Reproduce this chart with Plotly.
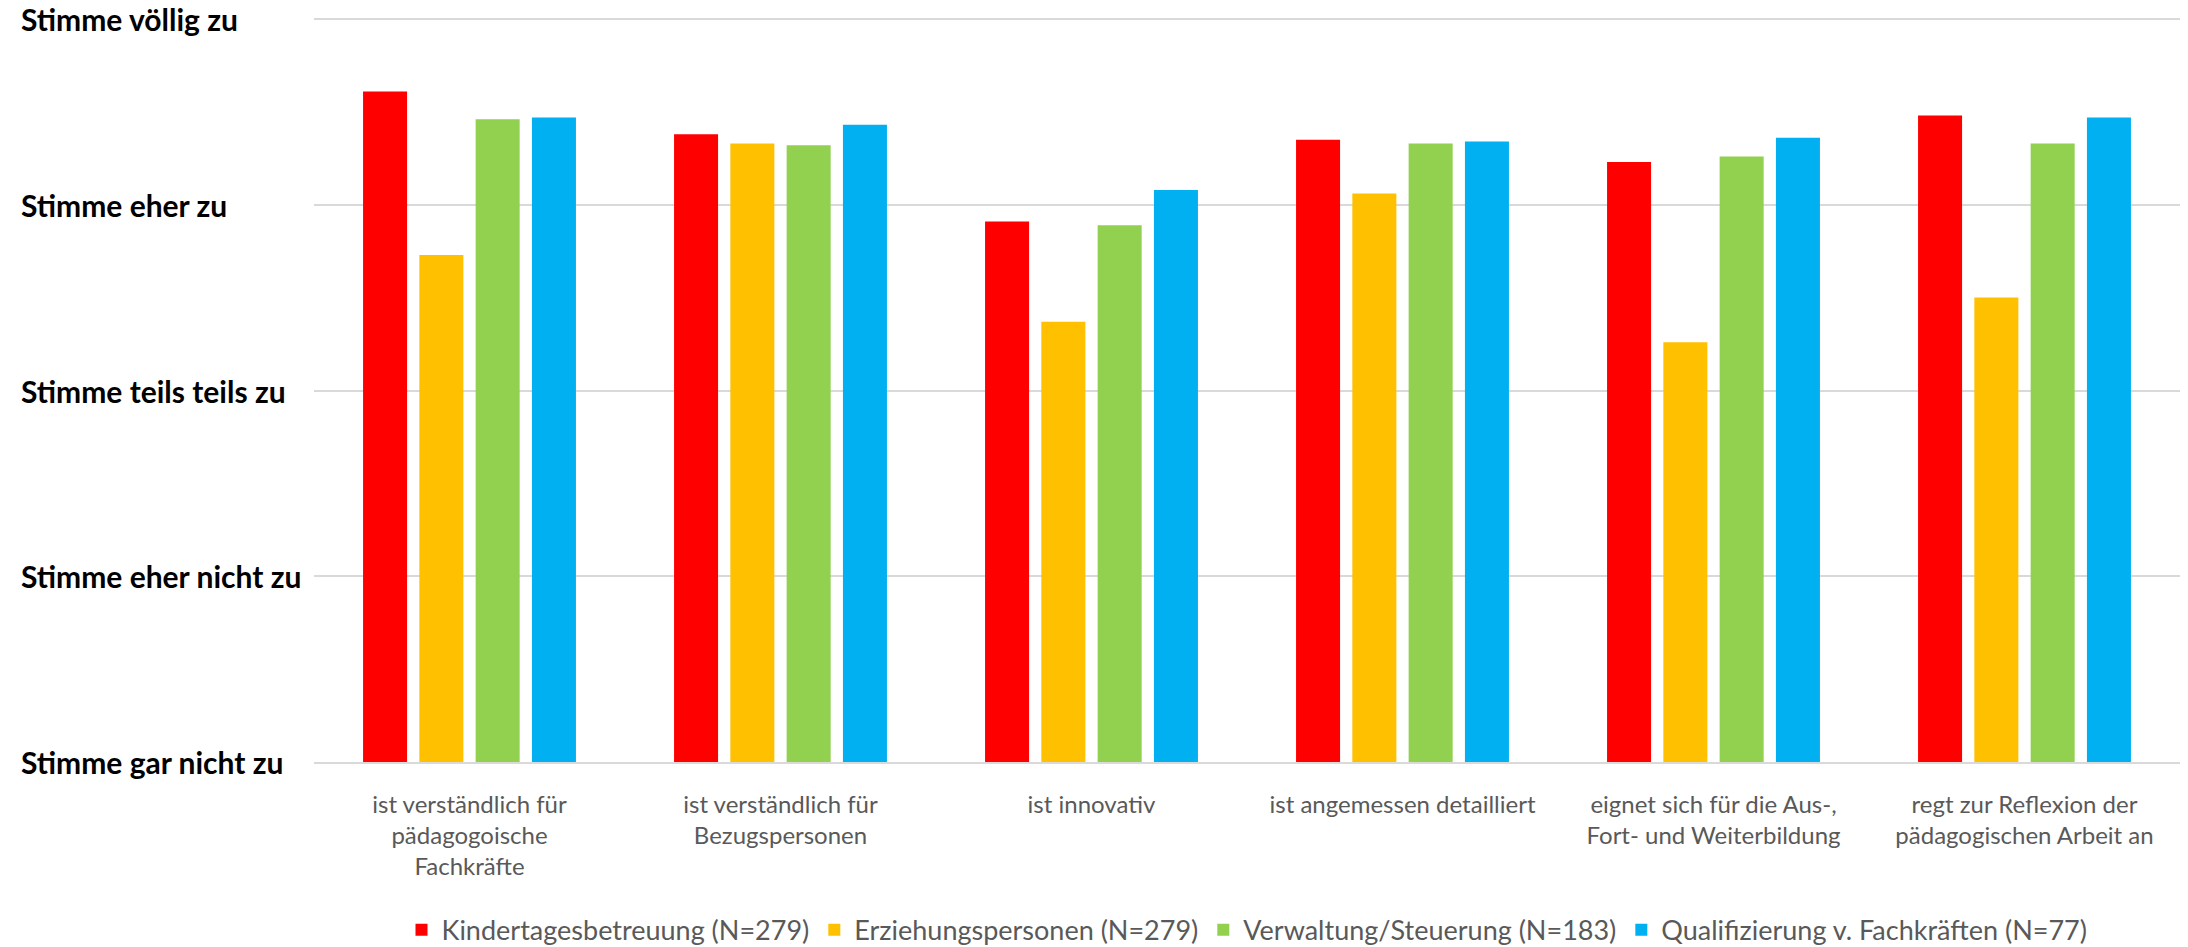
import plotly.graph_objects as go

categories = [
    "ist verständlich für<br>pädagogoische<br>Fachkräfte",
    "ist verständlich für<br>Bezugspersonen",
    "ist innovativ",
    "ist angemessen detailliert",
    "eignet sich für die Aus-,<br>Fort- und Weiterbildung",
    "regt zur Reflexion der<br>pädagogischen Arbeit an",
]

series_names = [
    "Kindertagesbetreuung (N=279)",
    "Erziehungspersonen (N=279)",
    "Verwaltung/Steuerung (N=183)",
    "Qualifizierung v. Fachkräften (N=77)",
]

kita = [4.61, 4.38, 3.91, 4.35, 4.23, 4.48]
erz = [3.73, 4.33, 3.37, 4.06, 3.26, 3.50]
verw = [4.46, 4.32, 3.89, 4.33, 4.26, 4.33]
quali = [4.47, 4.43, 4.08, 4.34, 4.36, 4.47]

colors = ["#FF0000", "#FFC000", "#92D050", "#00B0F0"]

tick_vals = [1, 2, 3, 4, 5]
tick_text = [
    "Stimme gar nicht zu",
    "Stimme eher nicht zu",
    "Stimme teils teils zu",
    "Stimme eher zu",
    "Stimme völlig zu",
]

fig = go.Figure()
for name, vals, col in zip(series_names, [kita, erz, verw, quali], colors):
    fig.add_trace(go.Bar(
        x=categories, y=vals, name=name,
        marker=dict(color=col, line=dict(width=0)),
    ))

annotations = []
for v, t in zip(tick_vals, tick_text):
    annotations.append(dict(
        x=-0.158, xref="paper", y=v, yref="y",
        text=t, showarrow=False, xanchor="left", yanchor="middle",
        font=dict(family="Lato", size=30, color="#000000", weight="bold"),
    ))

fig.update_layout(
    width=2188, height=947,
    margin=dict(l=314, r=8, t=15, b=185, autoexpand=False),
    paper_bgcolor="white", plot_bgcolor="white",
    barmode="group", bargap=0.276, bargroupgap=0.218,
    font=dict(family="Lato", size=24, color="#595959"),
    showlegend=True,
    legend=dict(
        orientation="h", x=0.5, xanchor="center", y=-0.225, yanchor="middle",
        font=dict(family="Lato", size=27, color="#595959"),
        itemwidth=30, traceorder="normal",
    ),
    annotations=annotations,
    xaxis=dict(
        showgrid=False, showline=True, linecolor="#d9d9d9", linewidth=2,
        ticks="", ticklabelstandoff=20,
        tickfont=dict(family="Lato", size=24, color="#595959"),
    ),
    yaxis=dict(
        range=[1, 5.0215], tickvals=tick_vals, showticklabels=False,
        showgrid=True, gridcolor="#d9d9d9", gridwidth=2,
        zeroline=False, showline=False, ticks="",
    ),
)

fig.write_html(
    "out.html",
    config={"displayModeBar": False},
    post_script="document.body.style.margin='0';document.body.style.overflow='hidden';",
)
